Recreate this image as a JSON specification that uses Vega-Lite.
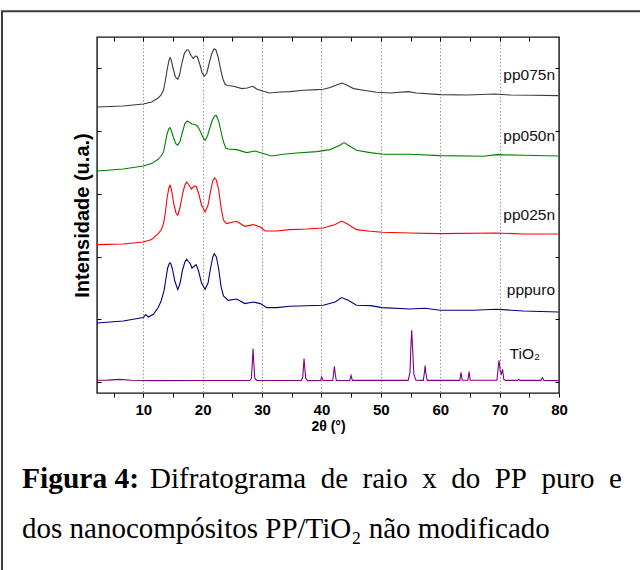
{
  "$schema": "https://vega.github.io/schema/vega-lite/v6.json",
  "width": 462,
  "height": 356,
  "autosize": {"type": "none"},
  "padding": {"left": 97, "top": 37, "right": 81, "bottom": 177},
  "background": "white",
  "config": {"view": {"stroke": "#111", "strokeWidth": 1.4}, "font": "Liberation Sans"},
  "datasets": {
    "xrd": [
      {"s":"pp075n","t":2.2,"i":286.0},{"s":"pp075n","t":6.6,"i":287.0},{"s":"pp075n","t":10.0,"i":289.0},{"s":"pp075n","t":11.4,"i":291.0},{"s":"pp075n","t":12.5,"i":295.0},{"s":"pp075n","t":13.0,"i":298.0},{"s":"pp075n","t":13.4,"i":303.0},{"s":"pp075n","t":13.7,"i":312.0},{"s":"pp075n","t":14.0,"i":323.0},{"s":"pp075n","t":14.3,"i":332.0},{"s":"pp075n","t":14.5,"i":335.4},{"s":"pp075n","t":14.7,"i":333.0},{"s":"pp075n","t":15.0,"i":325.0},{"s":"pp075n","t":15.4,"i":316.0},{"s":"pp075n","t":15.8,"i":313.7},{"s":"pp075n","t":16.1,"i":318.0},{"s":"pp075n","t":16.5,"i":330.0},{"s":"pp075n","t":16.9,"i":339.4},{"s":"pp075n","t":17.3,"i":343.0},{"s":"pp075n","t":17.6,"i":343.0},{"s":"pp075n","t":18.0,"i":338.0},{"s":"pp075n","t":18.4,"i":334.4},{"s":"pp075n","t":18.8,"i":337.0},{"s":"pp075n","t":19.1,"i":336.0},{"s":"pp075n","t":19.5,"i":329.0},{"s":"pp075n","t":19.9,"i":320.0},{"s":"pp075n","t":20.3,"i":317.0},{"s":"pp075n","t":20.7,"i":320.0},{"s":"pp075n","t":21.1,"i":330.0},{"s":"pp075n","t":21.5,"i":339.0},{"s":"pp075n","t":21.9,"i":344.0},{"s":"pp075n","t":22.2,"i":343.5},{"s":"pp075n","t":22.6,"i":336.0},{"s":"pp075n","t":23.0,"i":324.0},{"s":"pp075n","t":23.4,"i":314.0},{"s":"pp075n","t":23.8,"i":308.5},{"s":"pp075n","t":24.2,"i":307.5},{"s":"pp075n","t":25.2,"i":306.7},{"s":"pp075n","t":26.6,"i":304.4},{"s":"pp075n","t":27.5,"i":305.0},{"s":"pp075n","t":28.4,"i":306.7},{"s":"pp075n","t":29.1,"i":304.0},{"s":"pp075n","t":30.2,"i":301.7},{"s":"pp075n","t":31.3,"i":300.0},{"s":"pp075n","t":33.0,"i":301.0},{"s":"pp075n","t":34.7,"i":301.4},{"s":"pp075n","t":36.95,"i":302.7},{"s":"pp075n","t":39.2,"i":303.4},{"s":"pp075n","t":40.3,"i":303.7},{"s":"pp075n","t":41.45,"i":305.4},{"s":"pp075n","t":42.85,"i":308.7},{"s":"pp075n","t":43.5,"i":310.0},{"s":"pp075n","t":44.25,"i":308.0},{"s":"pp075n","t":45.4,"i":304.4},{"s":"pp075n","t":47.1,"i":302.7},{"s":"pp075n","t":49.3,"i":300.7},{"s":"pp075n","t":51.6,"i":300.0},{"s":"pp075n","t":54.6,"i":301.4},{"s":"pp075n","t":56.0,"i":300.0},{"s":"pp075n","t":60.0,"i":298.4},{"s":"pp075n","t":64.5,"i":298.0},{"s":"pp075n","t":69.2,"i":299.0},{"s":"pp075n","t":71.8,"i":298.0},{"s":"pp075n","t":75.7,"i":297.7},{"s":"pp075n","t":79.9,"i":297.4},
      {"s":"pp050n","t":2.2,"i":222.0},{"s":"pp050n","t":6.6,"i":224.0},{"s":"pp050n","t":10.0,"i":227.0},{"s":"pp050n","t":11.4,"i":229.4},{"s":"pp050n","t":12.5,"i":233.7},{"s":"pp050n","t":13.0,"i":237.0},{"s":"pp050n","t":13.4,"i":241.0},{"s":"pp050n","t":13.7,"i":250.0},{"s":"pp050n","t":14.0,"i":259.0},{"s":"pp050n","t":14.3,"i":264.5},{"s":"pp050n","t":14.5,"i":265.4},{"s":"pp050n","t":14.75,"i":262.0},{"s":"pp050n","t":15.1,"i":255.0},{"s":"pp050n","t":15.5,"i":249.0},{"s":"pp050n","t":15.8,"i":247.7},{"s":"pp050n","t":16.2,"i":252.0},{"s":"pp050n","t":16.6,"i":261.0},{"s":"pp050n","t":17.0,"i":269.4},{"s":"pp050n","t":17.4,"i":272.0},{"s":"pp050n","t":17.8,"i":270.5},{"s":"pp050n","t":18.2,"i":269.0},{"s":"pp050n","t":18.7,"i":268.5},{"s":"pp050n","t":19.1,"i":267.0},{"s":"pp050n","t":19.5,"i":263.0},{"s":"pp050n","t":20.0,"i":256.0},{"s":"pp050n","t":20.4,"i":252.7},{"s":"pp050n","t":20.8,"i":257.0},{"s":"pp050n","t":21.2,"i":265.0},{"s":"pp050n","t":21.6,"i":272.5},{"s":"pp050n","t":22.0,"i":277.0},{"s":"pp050n","t":22.3,"i":277.5},{"s":"pp050n","t":22.7,"i":271.5},{"s":"pp050n","t":23.1,"i":261.0},{"s":"pp050n","t":23.5,"i":251.0},{"s":"pp050n","t":23.9,"i":245.0},{"s":"pp050n","t":24.3,"i":244.0},{"s":"pp050n","t":25.7,"i":243.4},{"s":"pp050n","t":27.4,"i":240.4},{"s":"pp050n","t":28.8,"i":242.0},{"s":"pp050n","t":30.2,"i":239.4},{"s":"pp050n","t":31.6,"i":237.0},{"s":"pp050n","t":33.6,"i":238.7},{"s":"pp050n","t":35.8,"i":240.0},{"s":"pp050n","t":39.2,"i":241.4},{"s":"pp050n","t":41.45,"i":243.4},{"s":"pp050n","t":43.1,"i":247.7},{"s":"pp050n","t":43.8,"i":250.4},{"s":"pp050n","t":44.5,"i":247.7},{"s":"pp050n","t":45.9,"i":242.7},{"s":"pp050n","t":48.2,"i":240.4},{"s":"pp050n","t":50.4,"i":238.7},{"s":"pp050n","t":54.9,"i":238.7},{"s":"pp050n","t":60.0,"i":237.4},{"s":"pp050n","t":67.3,"i":236.7},{"s":"pp050n","t":69.5,"i":238.4},{"s":"pp050n","t":74.0,"i":237.7},{"s":"pp050n","t":79.9,"i":237.0},
      {"s":"pp025n","t":2.2,"i":148.4},{"s":"pp025n","t":6.6,"i":149.0},{"s":"pp025n","t":10.0,"i":151.0},{"s":"pp025n","t":11.4,"i":153.4},{"s":"pp025n","t":12.5,"i":159.4},{"s":"pp025n","t":13.0,"i":163.0},{"s":"pp025n","t":13.4,"i":169.4},{"s":"pp025n","t":13.7,"i":180.0},{"s":"pp025n","t":14.0,"i":195.0},{"s":"pp025n","t":14.3,"i":205.0},{"s":"pp025n","t":14.5,"i":207.7},{"s":"pp025n","t":14.75,"i":203.0},{"s":"pp025n","t":15.1,"i":190.0},{"s":"pp025n","t":15.5,"i":180.0},{"s":"pp025n","t":15.8,"i":177.7},{"s":"pp025n","t":16.2,"i":186.0},{"s":"pp025n","t":16.6,"i":199.0},{"s":"pp025n","t":17.0,"i":208.0},{"s":"pp025n","t":17.3,"i":211.0},{"s":"pp025n","t":17.7,"i":208.0},{"s":"pp025n","t":18.1,"i":204.0},{"s":"pp025n","t":18.6,"i":207.0},{"s":"pp025n","t":18.9,"i":206.7},{"s":"pp025n","t":19.3,"i":200.0},{"s":"pp025n","t":19.8,"i":188.0},{"s":"pp025n","t":20.4,"i":181.0},{"s":"pp025n","t":20.9,"i":188.0},{"s":"pp025n","t":21.3,"i":201.0},{"s":"pp025n","t":21.7,"i":212.0},{"s":"pp025n","t":22.0,"i":215.0},{"s":"pp025n","t":22.3,"i":213.0},{"s":"pp025n","t":22.7,"i":203.0},{"s":"pp025n","t":23.1,"i":185.0},{"s":"pp025n","t":23.5,"i":173.0},{"s":"pp025n","t":24.0,"i":169.4},{"s":"pp025n","t":25.7,"i":171.7},{"s":"pp025n","t":27.1,"i":166.7},{"s":"pp025n","t":28.5,"i":168.4},{"s":"pp025n","t":29.7,"i":166.0},{"s":"pp025n","t":30.5,"i":162.0},{"s":"pp025n","t":32.5,"i":162.0},{"s":"pp025n","t":34.7,"i":163.4},{"s":"pp025n","t":37.5,"i":164.0},{"s":"pp025n","t":40.3,"i":165.0},{"s":"pp025n","t":42.3,"i":168.4},{"s":"pp025n","t":43.4,"i":172.0},{"s":"pp025n","t":44.25,"i":169.4},{"s":"pp025n","t":45.9,"i":163.4},{"s":"pp025n","t":48.2,"i":161.7},{"s":"pp025n","t":50.2,"i":160.7},{"s":"pp025n","t":54.9,"i":160.0},{"s":"pp025n","t":60.0,"i":159.4},{"s":"pp025n","t":69.5,"i":160.0},{"s":"pp025n","t":74.0,"i":159.0},{"s":"pp025n","t":79.9,"i":159.0},
      {"s":"pppuro","t":2.2,"i":70.0},{"s":"pppuro","t":6.6,"i":72.0},{"s":"pppuro","t":10.0,"i":75.4},{"s":"pppuro","t":10.4,"i":78.4},{"s":"pppuro","t":10.85,"i":76.0},{"s":"pppuro","t":11.7,"i":78.7},{"s":"pppuro","t":12.5,"i":85.4},{"s":"pppuro","t":13.0,"i":92.0},{"s":"pppuro","t":13.5,"i":102.7},{"s":"pppuro","t":13.8,"i":114.0},{"s":"pppuro","t":14.1,"i":125.0},{"s":"pppuro","t":14.4,"i":130.0},{"s":"pppuro","t":14.6,"i":130.0},{"s":"pppuro","t":14.9,"i":124.0},{"s":"pppuro","t":15.3,"i":112.0},{"s":"pppuro","t":15.8,"i":103.4},{"s":"pppuro","t":16.2,"i":110.0},{"s":"pppuro","t":16.6,"i":123.0},{"s":"pppuro","t":17.0,"i":131.0},{"s":"pppuro","t":17.3,"i":133.7},{"s":"pppuro","t":17.6,"i":131.5},{"s":"pppuro","t":17.9,"i":129.4},{"s":"pppuro","t":18.2,"i":125.0},{"s":"pppuro","t":18.6,"i":127.0},{"s":"pppuro","t":18.9,"i":128.4},{"s":"pppuro","t":19.3,"i":122.0},{"s":"pppuro","t":19.8,"i":110.0},{"s":"pppuro","t":20.4,"i":103.7},{"s":"pppuro","t":20.9,"i":110.0},{"s":"pppuro","t":21.3,"i":124.0},{"s":"pppuro","t":21.7,"i":136.0},{"s":"pppuro","t":21.95,"i":139.4},{"s":"pppuro","t":22.3,"i":136.0},{"s":"pppuro","t":22.7,"i":124.0},{"s":"pppuro","t":23.1,"i":106.0},{"s":"pppuro","t":23.5,"i":97.0},{"s":"pppuro","t":24.3,"i":92.7},{"s":"pppuro","t":25.7,"i":94.0},{"s":"pppuro","t":27.1,"i":89.4},{"s":"pppuro","t":28.5,"i":91.0},{"s":"pppuro","t":29.7,"i":89.4},{"s":"pppuro","t":30.8,"i":85.4},{"s":"pppuro","t":32.5,"i":85.4},{"s":"pppuro","t":34.7,"i":86.7},{"s":"pppuro","t":40.3,"i":87.7},{"s":"pppuro","t":42.3,"i":91.0},{"s":"pppuro","t":43.4,"i":95.4},{"s":"pppuro","t":44.5,"i":92.7},{"s":"pppuro","t":45.9,"i":87.7},{"s":"pppuro","t":48.3,"i":87.4},{"s":"pppuro","t":50.2,"i":85.4},{"s":"pppuro","t":54.9,"i":84.0},{"s":"pppuro","t":57.45,"i":84.7},{"s":"pppuro","t":60.0,"i":82.7},{"s":"pppuro","t":65.6,"i":82.7},{"s":"pppuro","t":69.5,"i":83.7},{"s":"pppuro","t":74.0,"i":82.0},{"s":"pppuro","t":79.9,"i":81.0},
      {"s":"TiO2","t":2.2,"i":12.7},{"s":"TiO2","t":4.0,"i":12.9},{"s":"TiO2","t":6.0,"i":13.6},{"s":"TiO2","t":8.0,"i":12.8},{"s":"TiO2","t":12.0,"i":12.4},{"s":"TiO2","t":20.0,"i":12.5},{"s":"TiO2","t":27.9,"i":12.5},{"s":"TiO2","t":28.2,"i":14.5},{"s":"TiO2","t":28.35,"i":30.0},{"s":"TiO2","t":28.48,"i":44.4},{"s":"TiO2","t":28.6,"i":30.0},{"s":"TiO2","t":28.78,"i":14.5},{"s":"TiO2","t":29.1,"i":12.5},{"s":"TiO2","t":36.6,"i":12.5},{"s":"TiO2","t":36.85,"i":16.0},{"s":"TiO2","t":36.97,"i":27.0},{"s":"TiO2","t":37.07,"i":34.4},{"s":"TiO2","t":37.18,"i":26.0},{"s":"TiO2","t":37.35,"i":14.5},{"s":"TiO2","t":37.7,"i":12.4},{"s":"TiO2","t":39.85,"i":12.5},{"s":"TiO2","t":40.04,"i":16.0},{"s":"TiO2","t":40.25,"i":12.5},{"s":"TiO2","t":41.9,"i":12.5},{"s":"TiO2","t":42.05,"i":20.0},{"s":"TiO2","t":42.18,"i":26.7},{"s":"TiO2","t":42.32,"i":19.0},{"s":"TiO2","t":42.5,"i":12.5},{"s":"TiO2","t":44.75,"i":12.6},{"s":"TiO2","t":44.98,"i":17.7},{"s":"TiO2","t":45.2,"i":12.6},{"s":"TiO2","t":54.6,"i":12.6},{"s":"TiO2","t":54.9,"i":20.0},{"s":"TiO2","t":55.05,"i":45.0},{"s":"TiO2","t":55.2,"i":62.7},{"s":"TiO2","t":55.35,"i":44.0},{"s":"TiO2","t":55.55,"i":19.0},{"s":"TiO2","t":55.9,"i":12.7},{"s":"TiO2","t":57.15,"i":12.6},{"s":"TiO2","t":57.35,"i":21.0},{"s":"TiO2","t":57.45,"i":27.4},{"s":"TiO2","t":57.58,"i":20.0},{"s":"TiO2","t":57.8,"i":12.6},{"s":"TiO2","t":63.3,"i":12.6},{"s":"TiO2","t":63.5,"i":20.7},{"s":"TiO2","t":63.7,"i":12.8},{"s":"TiO2","t":64.65,"i":12.7},{"s":"TiO2","t":64.86,"i":21.4},{"s":"TiO2","t":65.05,"i":12.7},{"s":"TiO2","t":69.55,"i":12.8},{"s":"TiO2","t":69.75,"i":25.0},{"s":"TiO2","t":69.9,"i":32.7},{"s":"TiO2","t":70.1,"i":22.0},{"s":"TiO2","t":70.3,"i":19.0},{"s":"TiO2","t":70.5,"i":23.7},{"s":"TiO2","t":70.7,"i":13.5},{"s":"TiO2","t":71.0,"i":12.6},{"s":"TiO2","t":73.0,"i":12.6},{"s":"TiO2","t":73.2,"i":13.7},{"s":"TiO2","t":73.45,"i":12.6},{"s":"TiO2","t":76.95,"i":12.6},{"s":"TiO2","t":77.2,"i":15.4},{"s":"TiO2","t":77.45,"i":12.6},{"s":"TiO2","t":79.9,"i":12.4}
    ],
    "labels": [
      {"s":"pp075n","label":"pp075n","t":79.33,"i":318.0},
      {"s":"pp050n","label":"pp050n","t":79.33,"i":257.0},
      {"s":"pp025n","label":"pp025n","t":79.33,"i":178.0},
      {"s":"pppuro","label":"pppuro","t":79.33,"i":103.5},
      {"s":"TiO2","label":"TiO₂","t":76.8,"i":39.0}
    ]
  },
  "resolve": {"axis": {"x": "independent", "y": "independent"}},
  "layer": [
    {
      "data": {"values": [{"caption": "border"}]},
      "mark": {"type": "rect", "fillOpacity": 0, "stroke": "#3c3c3c", "strokeWidth": 2},
      "encoding": {
        "x": {"datum": -13.8, "type": "quantitative", "scale": {"domain": [2.2, 80], "nice": false, "zero": false}, "axis": null},
        "x2": {"datum": 97},
        "y": {"datum": 381.7, "type": "quantitative", "scale": {"domain": [0, 356], "nice": false, "zero": false}, "axis": null},
        "y2": {"datum": -197}
      }
    },
    {
      "data": {"name": "xrd"},
      "mark": {"type": "line", "strokeWidth": 1.1},
      "encoding": {
        "x": {
          "field": "t", "type": "quantitative",
          "scale": {"domain": [2.2, 80], "nice": false, "zero": false},
          "axis": {
            "orient": "bottom",
            "values": [5,10,15,20,25,30,35,40,45,50,55,60,65,70,75,80],
            "labelExpr": "datum.value % 10 === 0 ? datum.label : ''",
            "labelFont": "Liberation Sans", "labelFontWeight": "bold", "labelFontSize": 15, "labelColor": "#000",
            "labelPadding": 5, "labelFlush": false, "labelOverlap": false,
            "tickSize": 4, "tickColor": "#000", "tickWidth": 1,
            "domain": false,
            "grid": true, "gridColor": "#999", "gridDash": [1.5, 2], "gridWidth": 1,
            "gridOpacity": {"condition": {"test": "datum.value % 10 === 0 && datum.value < 80", "value": 1}, "value": 0},
            "title": "2θ (°)", "titleFont": "Liberation Sans", "titleFontSize": 14, "titleFontWeight": "bold", "titleColor": "#000", "titlePadding": 2
          }
        },
        "y": {
          "field": "i", "type": "quantitative",
          "scale": {"domain": [0, 356], "nice": false, "zero": false},
          "axis": {
            "orient": "left",
            "values": [11, 73.7, 136.4, 199.1, 261.8, 324.5],
            "labels": false, "tickSize": -4, "tickColor": "#000", "domain": false, "grid": false,
            "title": "Intensidade (u.a.)", "titleFont": "Liberation Sans", "titleFontSize": 20, "titleFontWeight": "bold", "titleColor": "#000", "titlePadding": 4
          }
        },
        "color": {
          "field": "s", "type": "nominal", "legend": null,
          "scale": {"domain": ["pp075n", "pp050n", "pp025n", "pppuro", "TiO2"], "range": ["#3a3a3a", "#008000", "#ff0000", "#000080", "#800080"]}
        }
      }
    },
    {
      "data": {"name": "labels"},
      "mark": {"type": "text", "align": "right", "baseline": "middle", "font": "Liberation Sans", "fontSize": 15.5, "color": "#111"},
      "encoding": {
        "x": {
          "field": "t", "type": "quantitative",
          "scale": {"domain": [2.2, 80], "nice": false, "zero": false},
          "axis": {"orient": "top", "values": [5,10,15,20,25,30,35,40,45,50,55,60,65,70,75], "labels": false, "tickSize": -4, "tickColor": "#000", "domain": false, "grid": false, "title": null}
        },
        "y": {
          "field": "i", "type": "quantitative",
          "scale": {"domain": [0, 356], "nice": false, "zero": false},
          "axis": {"orient": "right", "values": [11, 73.7, 136.4, 199.1, 261.8, 324.5], "labels": false, "tickSize": -4, "tickColor": "#000", "domain": false, "grid": false, "title": null}
        },
        "text": {"field": "label"}
      }
    },
    {
      "data": {"values": [{"caption": "Figura 4:"}]},
      "mark": {"type": "text", "align": "left", "baseline": "alphabetic", "font": "Liberation Serif", "fontSize": 29.5, "fontWeight": "bold", "color": "#000"},
      "encoding": {
        "x": {"datum": -10.43, "type": "quantitative", "axis": null},
        "y": {"datum": -95.3, "type": "quantitative", "axis": null},
        "text": {"field": "caption"}
      }
    },
    {
      "data": {"values": [{"caption": "Difratograma\u00a0 de\u00a0 raio\u00a0 x\u00a0 do\u00a0 PP\u00a0 puro\u00a0 e"}]},
      "mark": {"type": "text", "align": "right", "baseline": "alphabetic", "font": "Liberation Serif", "fontSize": 29, "color": "#000"},
      "encoding": {
        "x": {"datum": 90.6, "type": "quantitative", "axis": null},
        "y": {"datum": -95.3, "type": "quantitative", "axis": null},
        "text": {"field": "caption"}
      }
    },
    {
      "data": {"values": [{"caption": "dos nanocompósitos PP/TiO₂ não modificado"}]},
      "mark": {"type": "text", "align": "left", "baseline": "alphabetic", "font": "Liberation Serif", "fontSize": 29, "color": "#000"},
      "encoding": {
        "x": {"datum": -10.43, "type": "quantitative", "axis": null},
        "y": {"datum": -145.3, "type": "quantitative", "axis": null},
        "text": {"field": "caption"}
      }
    }
  ]
}
